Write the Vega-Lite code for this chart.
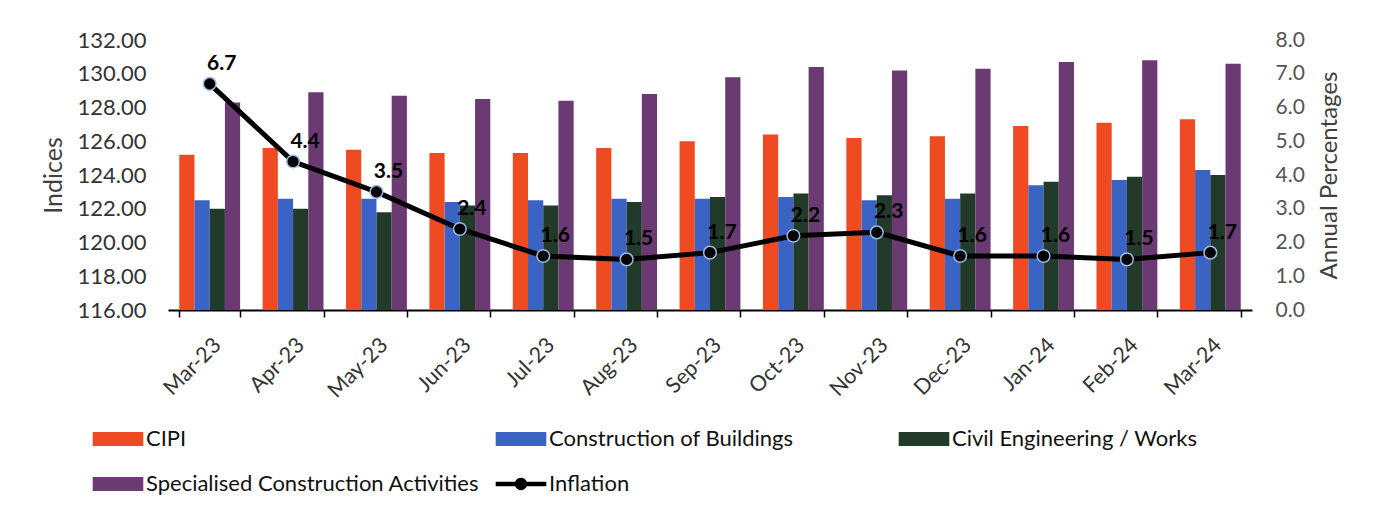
{
  "$schema": "https://vega.github.io/schema/vega-lite/v6.json",
  "width": 1084,
  "height": 270,
  "autosize": {"type": "none"},
  "padding": {"left": 168, "top": 40, "right": 124, "bottom": 203},
  "config": {"font": "Lato", "view": {"stroke": null}, "axis": {"grid": false}},
  "datasets": {
    "bars": [
      {"month": "Mar-23", "series": "CIPI", "value": 125.2},
      {"month": "Mar-23", "series": "Construction of Buildings", "value": 122.5},
      {"month": "Mar-23", "series": "Civil Engineering / Works", "value": 122.0},
      {"month": "Mar-23", "series": "Specialised Construction Activities", "value": 128.3},
      {"month": "Apr-23", "series": "CIPI", "value": 125.6},
      {"month": "Apr-23", "series": "Construction of Buildings", "value": 122.6},
      {"month": "Apr-23", "series": "Civil Engineering / Works", "value": 122.0},
      {"month": "Apr-23", "series": "Specialised Construction Activities", "value": 128.9},
      {"month": "May-23", "series": "CIPI", "value": 125.5},
      {"month": "May-23", "series": "Construction of Buildings", "value": 122.6},
      {"month": "May-23", "series": "Civil Engineering / Works", "value": 121.8},
      {"month": "May-23", "series": "Specialised Construction Activities", "value": 128.7},
      {"month": "Jun-23", "series": "CIPI", "value": 125.3},
      {"month": "Jun-23", "series": "Construction of Buildings", "value": 122.4},
      {"month": "Jun-23", "series": "Civil Engineering / Works", "value": 122.2},
      {"month": "Jun-23", "series": "Specialised Construction Activities", "value": 128.5},
      {"month": "Jul-23", "series": "CIPI", "value": 125.3},
      {"month": "Jul-23", "series": "Construction of Buildings", "value": 122.5},
      {"month": "Jul-23", "series": "Civil Engineering / Works", "value": 122.2},
      {"month": "Jul-23", "series": "Specialised Construction Activities", "value": 128.4},
      {"month": "Aug-23", "series": "CIPI", "value": 125.6},
      {"month": "Aug-23", "series": "Construction of Buildings", "value": 122.6},
      {"month": "Aug-23", "series": "Civil Engineering / Works", "value": 122.4},
      {"month": "Aug-23", "series": "Specialised Construction Activities", "value": 128.8},
      {"month": "Sep-23", "series": "CIPI", "value": 126.0},
      {"month": "Sep-23", "series": "Construction of Buildings", "value": 122.6},
      {"month": "Sep-23", "series": "Civil Engineering / Works", "value": 122.7},
      {"month": "Sep-23", "series": "Specialised Construction Activities", "value": 129.8},
      {"month": "Oct-23", "series": "CIPI", "value": 126.4},
      {"month": "Oct-23", "series": "Construction of Buildings", "value": 122.7},
      {"month": "Oct-23", "series": "Civil Engineering / Works", "value": 122.9},
      {"month": "Oct-23", "series": "Specialised Construction Activities", "value": 130.4},
      {"month": "Nov-23", "series": "CIPI", "value": 126.2},
      {"month": "Nov-23", "series": "Construction of Buildings", "value": 122.5},
      {"month": "Nov-23", "series": "Civil Engineering / Works", "value": 122.8},
      {"month": "Nov-23", "series": "Specialised Construction Activities", "value": 130.2},
      {"month": "Dec-23", "series": "CIPI", "value": 126.3},
      {"month": "Dec-23", "series": "Construction of Buildings", "value": 122.6},
      {"month": "Dec-23", "series": "Civil Engineering / Works", "value": 122.9},
      {"month": "Dec-23", "series": "Specialised Construction Activities", "value": 130.3},
      {"month": "Jan-24", "series": "CIPI", "value": 126.9},
      {"month": "Jan-24", "series": "Construction of Buildings", "value": 123.4},
      {"month": "Jan-24", "series": "Civil Engineering / Works", "value": 123.6},
      {"month": "Jan-24", "series": "Specialised Construction Activities", "value": 130.7},
      {"month": "Feb-24", "series": "CIPI", "value": 127.1},
      {"month": "Feb-24", "series": "Construction of Buildings", "value": 123.7},
      {"month": "Feb-24", "series": "Civil Engineering / Works", "value": 123.9},
      {"month": "Feb-24", "series": "Specialised Construction Activities", "value": 130.8},
      {"month": "Mar-24", "series": "CIPI", "value": 127.3},
      {"month": "Mar-24", "series": "Construction of Buildings", "value": 124.3},
      {"month": "Mar-24", "series": "Civil Engineering / Works", "value": 124.0},
      {"month": "Mar-24", "series": "Specialised Construction Activities", "value": 130.6}
    ],
    "inflation": [
      {"month": "Mar-23", "inflation": 6.7},
      {"month": "Apr-23", "inflation": 4.4},
      {"month": "May-23", "inflation": 3.5},
      {"month": "Jun-23", "inflation": 2.4},
      {"month": "Jul-23", "inflation": 1.6},
      {"month": "Aug-23", "inflation": 1.5},
      {"month": "Sep-23", "inflation": 1.7},
      {"month": "Oct-23", "inflation": 2.2},
      {"month": "Nov-23", "inflation": 2.3},
      {"month": "Dec-23", "inflation": 1.6},
      {"month": "Jan-24", "inflation": 1.6},
      {"month": "Feb-24", "inflation": 1.5},
      {"month": "Mar-24", "inflation": 1.7}
    ]
  },
  "layer": [
    {
      "data": {"name": "bars"},
      "mark": {"type": "bar"},
      "encoding": {
        "x": {
          "field": "month", "type": "nominal",
          "sort": ["Mar-23","Apr-23","May-23","Jun-23","Jul-23","Aug-23","Sep-23","Oct-23","Nov-23","Dec-23","Jan-24","Feb-24","Mar-24"],
          "scale": {"paddingInner": 0.27, "paddingOuter": 0.135},
          "axis": {
            "title": null, "labelAngle": -45, "labelFontSize": 21.5, "labelColor": "#333333",
            "domainColor": "#000000", "domainWidth": 2, "tickColor": "#000000", "tickWidth": 1.5,
            "tickSize": 7, "tickBand": "extent", "labelPadding": 17
          }
        },
        "xOffset": {
          "field": "series", "type": "nominal",
          "sort": ["CIPI","Construction of Buildings","Civil Engineering / Works","Specialised Construction Activities"],
          "scale": {"paddingInner": 0, "paddingOuter": 0}
        },
        "y": {
          "field": "value", "type": "quantitative",
          "scale": {"domain": [116, 132], "zero": false, "nice": false},
          "axis": {
            "title": "Indices", "titleFontSize": 25, "titleFontWeight": "normal", "titleColor": "#404040",
            "labelFontSize": 22, "labelColor": "#333333", "format": ".2f",
            "values": [116,118,120,122,124,126,128,130,132],
            "domain": false, "ticks": false, "labelPadding": 22, "titlePadding": 11
          }
        },
        "y2": {"datum": 116},
        "color": {
          "field": "series", "type": "nominal",
          "scale": {
            "domain": ["CIPI","Construction of Buildings","Civil Engineering / Works","Specialised Construction Activities","Inflation"],
            "range": ["#EE4B22","#3A63C4","#213A2A","#6B3A72","#000000"]
          },
          "legend": {
            "title": null, "orient": "none", "legendX": -72, "legendY": 377, "direction": "horizontal",
            "columns": 3, "gridAlign": "all", "columnPadding": 15, "rowPadding": 12,
            "symbolType": "M-1.15,-0.32H1.15V0.32H-1.15Z", "symbolSize": 1936,
            "symbolStrokeWidth": 0, "labelFontSize": 22, "labelColor": "#111111",
            "labelOffset": 6, "labelLimit": 600,
            "encode": {
              "symbols": {
                "update": {
                  "shape": {"signal": "datum.value === 'Inflation' ? 'M-1.15,-0.1H1.15V0.1H-1.15Z M-0.28,0A0.28,0.28 0 1,1 0.28,0A0.28,0.28 0 1,1 -0.28,0Z' : 'M-1.15,-0.32H1.15V0.32H-1.15Z'"}
                }
              }
            }
          }
        }
      }
    },
    {
      "data": {"name": "inflation"},
      "encoding": {
        "x": {"field": "month", "type": "nominal",
          "sort": ["Mar-23","Apr-23","May-23","Jun-23","Jul-23","Aug-23","Sep-23","Oct-23","Nov-23","Dec-23","Jan-24","Feb-24","Mar-24"]},
        "y": {
          "field": "inflation", "type": "quantitative",
          "scale": {"domain": [0, 8], "nice": false},
          "axis": {
            "orient": "right", "title": "Annual Percentages", "titleFontSize": 24, "titleFontWeight": "normal",
            "titleColor": "#404040", "titleAngle": 270, "titleBaseline": "top", "labelFontSize": 21, "labelColor": "#555555",
            "format": ".1f", "values": [0,1,2,3,4,5,6,7,8],
            "domain": false, "ticks": false, "labelPadding": 23, "titlePadding": 13
          }
        }
      },
      "layer": [
        {"mark": {"type": "line", "color": "#000000", "strokeWidth": 5}},
        {"mark": {"type": "point", "filled": true, "fill": "#000000", "stroke": "#9DB9E3", "strokeWidth": 1.5, "size": 160, "opacity": 1}},
        {"mark": {"type": "text", "dx": 12, "dy": -20, "fontSize": 21, "fontWeight": "bold", "color": "#000000"},
         "encoding": {"text": {"field": "inflation", "type": "quantitative", "format": ".1f"}}}
      ]
    }
  ],
  "resolve": {"scale": {"y": "independent"}}
}
